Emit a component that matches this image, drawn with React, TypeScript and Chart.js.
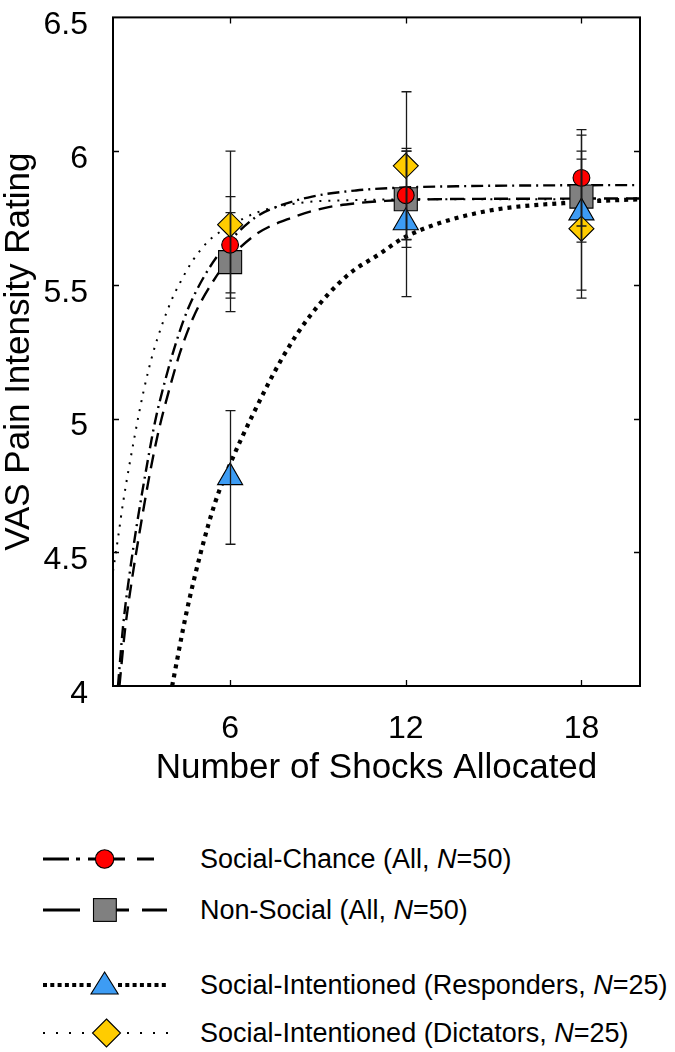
import React, { useEffect, useRef } from "react";
import { Chart, registerables } from "chart.js";

Chart.register(...registerables);

const FONT = '"Liberation Sans", Arial, Helvetica, sans-serif';

// ---------- data ----------
const shocks = [6, 12, 18];
const xTickValues = [6, 12, 18];
const yTickValues = [4, 4.5, 5, 5.5, 6, 6.5];

const socialChanceMean = [5.65, 5.835, 5.9];
const socialChanceErr = [0.18, 0.165, 0.18];
const nonSocialMean = [5.585, 5.82, 5.83];
const nonSocialErr = [0.185, 0.18, 0.17];
const respondersMean = [4.78, 5.733, 5.77];
const respondersErr = [0.25, 0.277, 0.29];
const dictatorsMean = [5.725, 5.945, 5.71];
const dictatorsErr = [0.275, 0.277, 0.26];

// fitted curves
const socialChanceFitX = [2.17, 2.35, 2.58, 2.81, 3.15, 3.44, 3.8, 4.2, 4.6, 5.3, 6, 6.9, 7.55, 8.8, 10.3, 11.5, 14, 17, 20];
const socialChanceFitY = [4.0, 4.23, 4.43, 4.6, 4.82, 4.99, 5.15, 5.3, 5.42, 5.565, 5.665, 5.755, 5.79, 5.83, 5.853, 5.862, 5.869, 5.872, 5.873];
const nonSocialFitX = [2.22, 2.4, 2.65, 2.9, 3.25, 3.55, 3.9, 4.3, 4.75, 5.4, 6, 6.9, 8.1, 9.25, 10.4, 11.3, 13, 16, 20];
const nonSocialFitY = [4.0, 4.2, 4.4, 4.57, 4.79, 4.95, 5.1, 5.25, 5.38, 5.51, 5.6, 5.69, 5.751, 5.788, 5.806, 5.814, 5.82, 5.822, 5.823];
const respondersFitX = [4.02, 4.5, 5, 5.5, 6, 6.8, 7.8, 8.7, 10, 11.1, 12, 14.5, 18, 20];
const respondersFitY = [4.0, 4.27, 4.5, 4.69, 4.83, 5.02, 5.23, 5.38, 5.535, 5.615, 5.68, 5.77, 5.81, 5.82];
const dictatorsFitX = [2, 2.1, 2.18, 2.35, 2.75, 3.04, 3.38, 3.95, 4.3, 4.75, 5.32, 6, 6.9, 8.5, 10, 13, 20];
const dictatorsFitY = [4.43, 4.5, 4.56, 4.69, 4.94, 5.1, 5.25, 5.43, 5.51, 5.595, 5.67, 5.72, 5.77, 5.808, 5.816, 5.82, 5.82];

const legendLabels = [
  ["Social-Chance (All, ", "=50)"],
  ["Non-Social (All, ", "=50)"],
  ["Social-Intentioned (Responders, ", "=25)"],
  ["Social-Intentioned (Dictators, ", "=25)"],
];

// ---------- layout ----------
const CANVAS_W = 675;
const CANVAS_H = 788;
const PLOT_LEFT = 113;
const PLOT_RIGHT = 640;
const PLOT_TOP = 9;
const PLOT_BOTTOM = 686;

const zip = (xs: number[], ys: number[]) => xs.map((x, i) => ({ x, y: ys[i] }));

const errorSeries = [
  { means: nonSocialMean, errs: nonSocialErr },
  { means: socialChanceMean, errs: socialChanceErr },
  { means: respondersMean, errs: respondersErr },
  { means: dictatorsMean, errs: dictatorsErr },
];

const boxPlugin = {
  id: "boxAndErrors",
  afterDatasetsDraw(chart: any) {
    const { ctx, chartArea, scales } = chart;
    const xs = scales.x;
    const ys = scales.y;
    const { left, right, top, bottom } = chartArea;
    ctx.save();
    // error bars
    ctx.strokeStyle = "#1a1a1a";
    ctx.lineWidth = 1.3;
    errorSeries.forEach((s) => {
      s.means.forEach((m, i) => {
        const px = Math.round(xs.getPixelForValue(shocks[i])) + 0.5;
        const t = ys.getPixelForValue(m + s.errs[i]);
        const b = ys.getPixelForValue(m - s.errs[i]);
        ctx.beginPath();
        ctx.moveTo(px, t);
        ctx.lineTo(px, b);
        ctx.moveTo(px - 5, t);
        ctx.lineTo(px + 5, t);
        ctx.moveTo(px - 5, b);
        ctx.lineTo(px + 5, b);
        ctx.stroke();
      });
    });
    // frame
    ctx.strokeStyle = "#000";
    ctx.lineWidth = 2;
    ctx.strokeRect(left, top, right - left, bottom - top);
    // inward ticks
    ctx.lineWidth = 1.3;
    ctx.beginPath();
    xTickValues.forEach((v) => {
      const px = Math.round(xs.getPixelForValue(v)) + 0.5;
      ctx.moveTo(px, bottom);
      ctx.lineTo(px, bottom - 6);
      ctx.moveTo(px, top);
      ctx.lineTo(px, top + 6);
    });
    yTickValues.slice(1, -1).forEach((v) => {
      const py = Math.round(ys.getPixelForValue(v)) + 0.5;
      ctx.moveTo(left, py);
      ctx.lineTo(left + 6, py);
      ctx.moveTo(right, py);
      ctx.lineTo(right - 6, py);
    });
    ctx.stroke();
    ctx.restore();
  },
};

function ChartCanvas() {
  const ref = useRef<HTMLCanvasElement | null>(null);
  useEffect(() => {
    if (!ref.current) return;
    const fitBase = {
      type: "line" as const,
      borderColor: "#000",
      pointRadius: 0,
      fill: false,
      tension: 0.4,
      cubicInterpolationMode: "monotone" as const,
      borderCapStyle: "butt" as const,
      order: 10,
    };
    const markerBase = {
      type: "line" as const,
      showLine: false,
      borderColor: "#000",
      borderWidth: 1.1,
      pointBorderColor: "#000",
      pointBorderWidth: 1.1,
    };
    const chart = new Chart(ref.current, {
      type: "line",
      data: {
        datasets: [
          { ...fitBase, data: zip(socialChanceFitX, socialChanceFitY), borderWidth: 2.4, borderDash: [12, 5, 2, 5] },
          { ...fitBase, data: zip(nonSocialFitX, nonSocialFitY), borderWidth: 2.4, borderDash: [14, 8] },
          { ...fitBase, data: zip(respondersFitX, respondersFitY), borderWidth: 4.2, borderDash: [4, 5] },
          { ...fitBase, data: zip(dictatorsFitX, dictatorsFitY), borderWidth: 2, borderDash: [2, 7] },
          { ...markerBase, data: zip(shocks, nonSocialMean), pointStyle: "rect", pointRadius: 16.3, pointBackgroundColor: "#808080", order: 4 },
          { ...markerBase, data: zip(shocks, socialChanceMean), pointStyle: "circle", pointRadius: 8.4, pointBackgroundColor: "#ff0000", order: 3 },
          { ...markerBase, data: zip(shocks, respondersMean), pointStyle: "triangle", pointRadius: 14.5, pointBackgroundColor: "#3d9cf4", order: 2 },
          { ...markerBase, data: zip(shocks, dictatorsMean), pointStyle: "rectRot", pointRadius: 12.5, pointBackgroundColor: "#ffcc00", order: 1 },
        ] as any,
      },
      options: {
        animation: false,
        responsive: false,
        maintainAspectRatio: false,
        devicePixelRatio: 1,
        layout: { padding: { top: PLOT_TOP, right: CANVAS_W - PLOT_RIGHT, left: 0, bottom: 0 } },
        plugins: { legend: { display: false }, tooltip: { enabled: false } },
        events: [],
        scales: {
          x: {
            type: "linear",
            min: 2,
            max: 20,
            grid: { display: false },
            border: { display: false },
            afterBuildTicks: (s: any) => {
              s.ticks = xTickValues.map((v) => ({ value: v }));
            },
            afterFit: (s: any) => {
              s.height = CANVAS_H - PLOT_BOTTOM;
              s.paddingLeft = 0;
              s.paddingRight = 0;
            },
            ticks: {
              font: { family: FONT, size: 32 },
              color: "#000",
              padding: 16,
              maxRotation: 0,
              callback: (v: any) => String(v),
            },
            title: {
              display: true,
              text: "Number of Shocks Allocated",
              font: { family: FONT, size: 35, lineHeight: 1.1 },
              color: "#000",
              padding: 0,
            },
          },
          y: {
            type: "linear",
            min: 4,
            max: 6.5,
            grid: { display: false },
            border: { display: false },
            afterBuildTicks: (s: any) => {
              s.ticks = yTickValues.map((v) => ({ value: v }));
            },
            afterFit: (s: any) => {
              s.width = PLOT_LEFT;
              s.paddingTop = 0;
              s.paddingBottom = 0;
            },
            ticks: {
              font: { family: FONT, size: 32 },
              color: "#000",
              padding: 17,
              labelOffset: 8,
              callback: (v: any) => String(v),
            },
            title: {
              display: true,
              text: "VAS Pain Intensity Rating",
              font: { family: FONT, size: 35, lineHeight: 1.1 },
              color: "#000",
              padding: 0,
            },
          },
        },
      } as any,
      plugins: [boxPlugin],
    });
    return () => chart.destroy();
  }, []);
  return (
    <canvas
      ref={ref}
      width={CANVAS_W}
      height={CANVAS_H}
      style={{ position: "absolute", left: 0, top: 0, width: CANVAS_W, height: CANVAS_H }}
    />
  );
}

const rowY = [859, 910, 985, 1033];

function LegendSample({ index }: { index: number }) {
  const y = 16;
  if (index === 0) {
    return (
      <svg width={190} height={32} style={{ position: "absolute", left: 0, top: 0 }}>
        <line x1={43} y1={y} x2={69} y2={y} stroke="#000" strokeWidth={3} />
        <line x1={76} y1={y} x2={80} y2={y} stroke="#000" strokeWidth={3} />
        <line x1={88} y1={y} x2={121} y2={y} stroke="#000" strokeWidth={3} />
        <circle cx={104.6} cy={y} r={9.2} fill="#ff0000" stroke="#000" strokeWidth={1.1} />
        <line x1={121} y1={y} x2={125} y2={y} stroke="#000" strokeWidth={3} />
        <line x1={137} y1={y} x2={154} y2={y} stroke="#000" strokeWidth={3} />
      </svg>
    );
  }
  if (index === 1) {
    return (
      <svg width={190} height={32} style={{ position: "absolute", left: 0, top: 0 }}>
        <line x1={43} y1={y} x2={80} y2={y} stroke="#000" strokeWidth={3} />
        <line x1={116} y1={y} x2={129} y2={y} stroke="#000" strokeWidth={3} />
        <line x1={142} y1={y} x2={167} y2={y} stroke="#000" strokeWidth={3} />
        <rect x={93.5} y={y - 11.4} width={22.8} height={22.8} fill="#808080" stroke="#000" strokeWidth={1.1} />
      </svg>
    );
  }
  if (index === 2) {
    return (
      <svg width={190} height={32} style={{ position: "absolute", left: 0, top: 0 }}>
        <line x1={43} y1={y} x2={94} y2={y} stroke="#000" strokeWidth={4} strokeDasharray="4 3.3" />
        <line x1={118} y1={y} x2={168} y2={y} stroke="#000" strokeWidth={4} strokeDasharray="4 3.3" />
        <polygon points={`104.6,${y - 13} 118.2,${y + 9} 91,${y + 9}`} fill="#3d9cf4" stroke="#000" strokeWidth={1.1} />
      </svg>
    );
  }
  return (
    <svg width={190} height={34} style={{ position: "absolute", left: 0, top: -1 }}>
      <line x1={43} y1={17} x2={92} y2={17} stroke="#000" strokeWidth={2} strokeDasharray="2 11" />
      <line x1={127} y1={17} x2={170} y2={17} stroke="#000" strokeWidth={2} strokeDasharray="2 11" />
      <polygon points={`106.5,${17 - 14} 120.5,17 106.5,${17 + 14} 92.5,17`} fill="#ffcc00" stroke="#000" strokeWidth={1.1} />
    </svg>
  );
}

function Legend() {
  return (
    <>
      {legendLabels.map((lab, i) => (
        <div key={i} style={{ position: "absolute", left: 0, top: rowY[i] - 16, width: CANVAS_W, height: 32 }}>
          <LegendSample index={i} />
          <span
            style={{
              position: "absolute",
              left: 200,
              top: 0,
              fontFamily: FONT,
              fontSize: 27,
              lineHeight: "32px",
              color: "#000",
              whiteSpace: "nowrap",
            }}
          >
            {lab[0]}
            <i>N</i>
            {lab[1]}
          </span>
        </div>
      ))}
    </>
  );
}

export default function App() {
  return (
    <div style={{ position: "absolute", left: 0, top: 0, width: CANVAS_W, height: 1052, background: "#fff", overflow: "hidden" }}>
      <ChartCanvas />
      <Legend />
    </div>
  );
}
